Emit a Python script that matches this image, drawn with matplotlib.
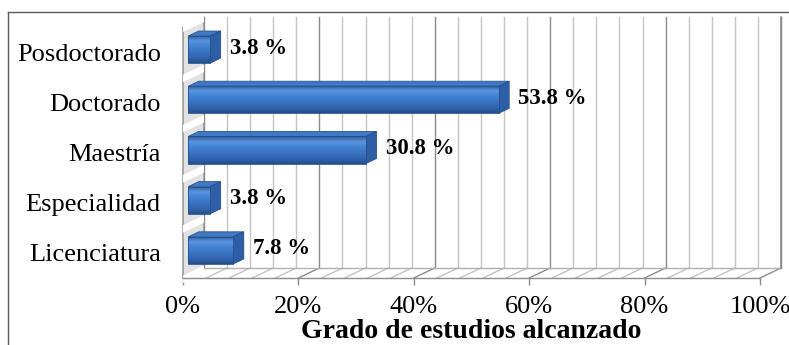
import numpy as np
import matplotlib
matplotlib.use("Agg")
import matplotlib.pyplot as plt
from matplotlib.patches import Polygon, Rectangle
from matplotlib.colors import LinearSegmentedColormap
from matplotlib.lines import Line2D

# ---- data ----
categories = ["Licenciatura", "Especialidad", "Maestría", "Doctorado", "Posdoctorado"]
values = [7.8, 3.8, 30.8, 53.8, 3.8]
value_labels = ["7.8 %", "3.8 %", "30.8 %", "53.8 %", "3.8 %"]
xticks = [0, 20, 40, 60, 80, 100]
xtick_labels = ["0%", "20%", "40%", "60%", "80%", "100%"]
x_title = "Grado de estudios alcanzado"

# ---- styling ----
SERIF = "Liberation Serif"
DX, DY = 3.64, 0.2          # depth offset of the back wall (data units)
BAR_D0, BAR_D1 = 0.25, 0.75  # bar depth range (fraction of full depth)
BAR_H = 0.54
MINOR_STEP = 4

W, H = 789, 345
fig = plt.figure(figsize=(W / 100, H / 100), dpi=100)
fig.patch.set_facecolor("white")

# outer chart frame
fig.add_artist(Line2D([8 / W, 1.0], [1 - 12 / H] * 2, color="#5a5a5a", lw=1.0))
fig.add_artist(Line2D([8 / W] * 2, [0.0, 1 - 12 / H], color="#5a5a5a", lw=1.0))

ax = fig.add_axes([183 / W, 1 - 278 / H, 577 / W, 251 / H])
ax.set_xlim(0, 100)
ax.set_ylim(-0.5, 4.5)
ax.set_facecolor("none")
y0, y1 = -0.5, 4.5

# ---- 3D walls and grid ----
minor = np.arange(0, 100 + 1, MINOR_STEP)
for k in minor:
    major = (k % 20 == 0)
    col = "#8c8c8c" if major else "#c4c4c4"
    # back wall vertical line
    ax.plot([k + DX, k + DX], [y0 + DY, y1 + DY], color=col, lw=1.0,
            clip_on=False, zorder=1)
    # floor diagonal
    ax.plot([k, k + DX], [y0, y0 + DY], color=col, lw=1.0,
            clip_on=False, zorder=1)
# back floor edge
ax.plot([DX, 100 + DX], [y0 + DY, y0 + DY], color="#b0b0b0", lw=1.0,
        clip_on=False, zorder=1)
ax.plot([100 + DX, 100 + DX], [y0 + DY, y1 + DY], color="#8c8c8c", lw=1.2,
        clip_on=False, zorder=1)

# left side wall
wall = Polygon([[0, y0], [0, y1], [DX, y1 + DY], [DX, y0 + DY]], closed=True,
               facecolor="#e2e2e2", edgecolor="#8c8c8c", lw=1.0,
               clip_on=False, zorder=2)
ax.add_patch(wall)
# light diagonal sheen on the wall between bars
for i in range(len(categories) + 1):
    yy = i - 0.5
    ax.add_patch(Polygon([[0, yy - 0.1], [0, yy + 0.05], [DX, yy + DY + 0.05], [DX, yy + DY - 0.1]],
                         closed=True, facecolor="white", edgecolor="none",
                         clip_on=False, zorder=2.5))

# ---- bars ----
front_cmap = LinearSegmentedColormap.from_list(
    "front", ["#2c5896", "#5a95e0", "#4282d2", "#3a74c2", "#3266b0", "#24508c"])
grad = np.linspace(0, 1, 64).reshape(-1, 1)

for i, (v, lab) in enumerate(zip(values, value_labels)):
    fx0 = BAR_D0 * DX
    fy0 = i - BAR_H / 2 + BAR_D0 * DY
    fx1 = v + fx0
    fy1 = fy0 + BAR_H
    ddx = (BAR_D1 - BAR_D0) * DX
    ddy = (BAR_D1 - BAR_D0) * DY

    # top face
    top = Polygon([[fx0, fy1], [fx1, fy1], [fx1 + ddx, fy1 + ddy], [fx0 + ddx, fy1 + ddy]],
                  closed=True, facecolor="#3f78c4", edgecolor="#2b5590", lw=0.6,
                  clip_on=False, zorder=4)
    ax.add_patch(top)
    # side face
    side = Polygon([[fx1, fy0], [fx1, fy1], [fx1 + ddx, fy1 + ddy], [fx1 + ddx, fy0 + ddy]],
                   closed=True, facecolor="#2d5ea6", edgecolor="#24508c", lw=0.6,
                   clip_on=False, zorder=4)
    ax.add_patch(side)
    # front face with vertical gradient
    rect = Rectangle((fx0, fy0), fx1 - fx0, fy1 - fy0, facecolor="none",
                     edgecolor="#24508c", lw=0.6, clip_on=False, zorder=6)
    ax.add_patch(rect)
    im = ax.imshow(grad, extent=[fx0, fx1, fy0, fy1], aspect="auto",
                   cmap=front_cmap, interpolation="bilinear", zorder=5,
                   origin="upper")
    im.set_clip_path(rect)

    ax.text(fx1 + ddx + 1.6, i + 0.08, lab, fontfamily=SERIF, fontweight="bold",
            fontsize=16.5, ha="left", va="center", color="black", zorder=7)

ax.set_xlim(0, 100)
ax.set_ylim(y0, y1)

# ---- axes, ticks, labels ----
for s in ["top", "right", "left"]:
    ax.spines[s].set_visible(False)
ax.spines["bottom"].set_color("#8c8c8c")
ax.spines["bottom"].set_linewidth(1.0)
ax.spines["bottom"].set_zorder(3)

ax.set_xticks(xticks)
ax.set_xticklabels(xtick_labels, fontfamily=SERIF, fontsize=19)
ax.tick_params(axis="x", length=5, width=1.0, color="#8c8c8c", pad=8)
ax.set_yticks(range(len(categories)))
ax.set_yticklabels(categories, fontfamily=SERIF, fontsize=19)
ax.tick_params(axis="y", length=0, pad=16)

fig.text((183 + 577 / 2) / W, 1 - 332 / H, x_title, fontfamily=SERIF,
         fontweight="bold", fontsize=20, ha="center", va="center")

fig.savefig("out.png", dpi=100)
